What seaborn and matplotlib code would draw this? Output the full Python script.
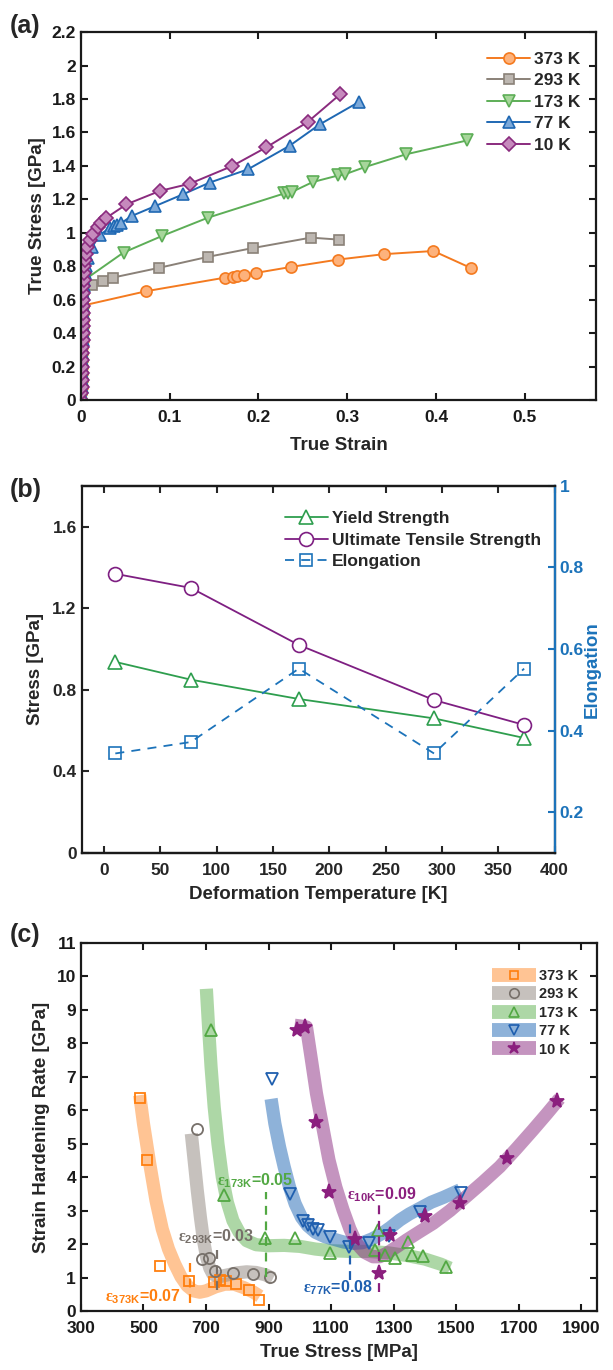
import numpy as np
import matplotlib
matplotlib.use('Agg')
import matplotlib.pyplot as plt
from matplotlib.lines import Line2D
from matplotlib.ticker import FuncFormatter
import seaborn as sns

# ---------------- data: (a) true stress-strain ----------------
temps_a = ['373 K', '293 K', '173 K', '77 K', '10 K']

strain_373 = [0, 0.0004, 0.0007, 0.0009, 0.0011, 0.0013, 0.0015, 0.0016, 0.0017, 0.0018, 0.0019, 0.002, 0.0021, 0.0022, 0.0024,
              0.0738, 0.1625, 0.171, 0.176, 0.184, 0.197, 0.237, 0.290, 0.341, 0.397, 0.439]
stress_373 = [0, 0.04, 0.08, 0.12, 0.16, 0.2, 0.24, 0.28, 0.32, 0.36, 0.4, 0.44, 0.48, 0.52, 0.565,
              0.651, 0.732, 0.736, 0.74, 0.746, 0.76, 0.796, 0.84, 0.872, 0.891, 0.79]

strain_293 = [0, 0.0004, 0.0007, 0.0009, 0.0011, 0.0013, 0.0015, 0.0016, 0.0017, 0.0018, 0.0019, 0.002, 0.0021, 0.0022, 0.0023,
              0.0025, 0.0028, 0.0035, 0.012, 0.025, 0.036, 0.0876, 0.143, 0.194, 0.259, 0.291]
stress_293 = [0, 0.04, 0.08, 0.12, 0.16, 0.2, 0.24, 0.28, 0.32, 0.36, 0.4, 0.44, 0.48, 0.52, 0.56,
              0.6, 0.64, 0.67, 0.69, 0.71, 0.732, 0.79, 0.856, 0.909, 0.971, 0.959]

strain_173 = [0, 0.0004, 0.0007, 0.0009, 0.0011, 0.0013, 0.0015, 0.0016, 0.0017, 0.0018, 0.0019, 0.002, 0.0021, 0.0022, 0.0023,
              0.0025, 0.0028, 0.0032, 0.0045, 0.048, 0.0914, 0.143, 0.229, 0.233, 0.238, 0.261, 0.290, 0.297, 0.320,
              0.366, 0.435]
stress_173 = [0, 0.04, 0.08, 0.12, 0.16, 0.2, 0.24, 0.28, 0.32, 0.36, 0.4, 0.44, 0.48, 0.52, 0.56,
              0.6, 0.64, 0.68, 0.72, 0.882, 0.981, 1.09, 1.235, 1.24, 1.245, 1.303, 1.343, 1.349, 1.393,
              1.469, 1.552]

strain_77 = [0, 0.0004, 0.0007, 0.0009, 0.0011, 0.0013, 0.0015, 0.0016, 0.0017, 0.0018, 0.0019, 0.002, 0.0021, 0.0022, 0.0023,
             0.0025, 0.0027, 0.003, 0.0035, 0.0042, 0.0055, 0.0075, 0.0124, 0.021, 0.0326, 0.037, 0.0408, 0.0457,
             0.057, 0.083, 0.115, 0.145, 0.188, 0.235, 0.269, 0.3128]
stress_77 = [0, 0.04, 0.08, 0.12, 0.16, 0.2, 0.24, 0.28, 0.32, 0.36, 0.4, 0.44, 0.48, 0.52, 0.56,
             0.6, 0.64, 0.68, 0.72, 0.76, 0.8, 0.85, 0.913, 0.985, 1.031, 1.039, 1.045, 1.059,
             1.10, 1.158, 1.23, 1.30, 1.379, 1.52, 1.648, 1.781]

strain_10 = [0, 0.0004, 0.0007, 0.0009, 0.0011, 0.0013, 0.0015, 0.0016, 0.0017, 0.0018, 0.0019, 0.002, 0.0021, 0.0022, 0.0023,
             0.0024, 0.0026, 0.0028, 0.0031, 0.0035, 0.004, 0.0045, 0.0055, 0.0071, 0.0101, 0.0139, 0.0187, 0.023, 0.0288,
             0.0513, 0.0888, 0.1225, 0.1704, 0.2086, 0.2554, 0.2918]
stress_10 = [0, 0.04, 0.08, 0.12, 0.16, 0.2, 0.24, 0.28, 0.32, 0.36, 0.4, 0.44, 0.48, 0.52, 0.56,
             0.6, 0.64, 0.68, 0.72, 0.76, 0.8, 0.84, 0.876, 0.915, 0.955, 0.995, 1.035, 1.059, 1.09,
             1.17, 1.25, 1.293, 1.399, 1.51, 1.662, 1.827]

xticks_a = [0, 0.1, 0.2, 0.3, 0.4, 0.5]
yticks_a = [0, 0.2, 0.4, 0.6, 0.8, 1.0, 1.2, 1.4, 1.6, 1.8, 2.0, 2.2]

# ---------------- data: (b) strength / elongation ----------------
temp_b = [10, 77, 173, 293, 373]
yield_b = [0.937, 0.85, 0.755, 0.66, 0.564]
uts_b = [1.369, 1.30, 1.02, 0.75, 0.628]
elong_b = [0.344, 0.372, 0.552, 0.344, 0.552]
xticks_b = [0, 50, 100, 150, 200, 250, 300, 350, 400]
yticks_b = [0, 0.4, 0.8, 1.2, 1.6]
yticks_b2 = [0.2, 0.4, 0.6, 0.8, 1.0]

# ---------------- data: (c) strain hardening ----------------
pts_373_x = [490, 510.6, 552, 645.7, 725.5, 743.6, 762.8, 794.7, 837, 869]
pts_373_y = [6.37, 4.50, 1.34, 0.90, 0.87, 0.92, 0.90, 0.82, 0.62, 0.32]
fit_373_x = [488, 500, 520, 540, 560, 580, 600, 620, 640, 660, 680, 700, 730, 760, 790, 820, 850, 872]
fit_373_y = [6.45, 5.6, 4.4, 3.3, 2.45, 1.85, 1.4, 1.02, 0.75, 0.6, 0.56, 0.6, 0.72, 0.8, 0.8, 0.7, 0.57, 0.44]

pts_293_x = [672, 687, 708.5, 727.7, 786, 850, 905]
pts_293_y = [5.44, 1.54, 1.58, 1.20, 1.12, 1.10, 1.02]
fit_293_x = [653, 662, 672, 682, 692, 702, 712, 722, 740, 770, 800, 830, 860, 890, 914]
fit_293_y = [5.3, 4.5, 3.6, 2.8, 2.1, 1.6, 1.28, 1.1, 1.02, 1.08, 1.14, 1.17, 1.15, 1.08, 0.97]

pts_173_x = [717, 756, 889, 983, 1095.5, 1239, 1250, 1271, 1303, 1346, 1359, 1394, 1468]
pts_173_y = [8.39, 3.46, 2.19, 2.19, 1.72, 1.82, 2.42, 1.67, 1.57, 2.07, 1.67, 1.64, 1.32]
fit_173_x = [701, 708, 716, 726, 738, 752, 768, 786, 806, 830, 860, 900, 950, 1000, 1050, 1100, 1160, 1220, 1280, 1340,
             1400, 1450, 1480]
fit_173_y = [9.63, 8.5, 7.3, 6.1, 5.0, 4.0, 3.25, 2.7, 2.35, 2.1, 1.98, 1.95, 1.96, 1.93, 1.85, 1.8, 1.78, 1.78, 1.74, 1.66,
             1.55, 1.4, 1.28]

pts_77_x = [910.6, 969, 1009.6, 1025.5, 1041, 1058, 1095.5, 1157, 1221, 1285, 1383, 1516]
pts_77_y = [6.92, 3.51, 2.68, 2.56, 2.46, 2.42, 2.22, 1.92, 2.02, 2.24, 2.97, 3.52]
fit_77_x = [908, 920, 935, 950, 967, 985, 1005, 1025, 1050, 1080, 1110, 1140, 1170, 1200, 1230, 1260, 1290, 1320, 1350,
            1380, 1420, 1460, 1512]
fit_77_y = [6.34, 5.6, 4.9, 4.3, 3.7, 3.2, 2.8, 2.55, 2.35, 2.22, 2.14, 2.06, 2.02, 2.04, 2.15, 2.3, 2.5, 2.72, 2.9,
            3.05, 3.25, 3.4, 3.62]

pts_10_x = [991.5, 1017, 1053, 1093, 1175.5, 1252, 1289.5, 1399, 1513, 1662, 1822]
pts_10_y = [8.41, 8.49, 5.64, 3.55, 2.15, 1.13, 2.27, 2.85, 3.24, 4.58, 6.27]
fit_10_x = [983, 1000, 1021, 1037, 1053, 1073, 1093, 1115, 1138, 1160, 1181, 1207, 1234, 1255, 1277, 1310, 1341, 1383,
            1426, 1480, 1532, 1585, 1639, 1692, 1745, 1790, 1830]
fit_10_y = [8.54, 8.52, 8.49, 7.5, 6.5, 5.5, 4.51, 3.7, 3.02, 2.45, 2.02, 1.75, 1.62, 1.62, 1.72, 1.92, 2.12, 2.37,
            2.62, 3.0, 3.42, 3.85, 4.31, 4.85, 5.41, 5.9, 6.35]

eps_labels = [r'$\mathrm{\varepsilon}_{\mathbf{373K}}$=0.07', r'$\mathrm{\varepsilon}_{\mathbf{293K}}$=0.03',
              r'$\mathrm{\varepsilon}_{\mathbf{173K}}$=0.05', r'$\mathrm{\varepsilon}_{\mathbf{77K}}$=0.08',
              r'$\mathrm{\varepsilon}_{\mathbf{10K}}$=0.09']
eps_x = [648, 735, 891, 1159, 1252]
eps_lo = [0.24, 0.63, 1.02, 0.93, 0.57]
eps_hi = [1.52, 1.91, 3.56, 2.72, 3.17]
eps_text_x = [377, 610, 734, 1009, 1150]
eps_text_y = [0.42, 2.21, 3.89, 0.69, 3.47]

xticks_c = [300, 500, 700, 900, 1100, 1300, 1500, 1700, 1900]
yticks_c = list(range(0, 12))

# ---------------- style ----------------
sns.set_theme(style='ticks')
plt.rcParams['font.family'] = ['Liberation Sans', 'DejaVu Sans']
plt.rcParams['font.weight'] = 'bold'
plt.rcParams['axes.labelweight'] = 'bold'
plt.rcParams['axes.linewidth'] = 1.6
plt.rcParams['mathtext.fontset'] = 'custom'
plt.rcParams['mathtext.rm'] = 'Liberation Serif'
plt.rcParams['mathtext.bf'] = 'Liberation Sans:bold'

TICK = 12.5
LAB = 13.5
fmt = FuncFormatter(lambda v, p: '%g' % v)

fig = plt.figure(figsize=(6.13, 13.7), dpi=100)
ax_a = fig.add_axes([0.132, 0.708, 0.840, 0.2686])
ax_b = fig.add_axes([0.133, 0.3774, 0.7716, 0.2679])
ax_c = fig.add_axes([0.132, 0.0431, 0.842, 0.2686])


def box_ticks(ax):
    ax.tick_params(direction='in', top=True, right=True, length=5, width=1.5,
                   labelsize=TICK, colors='k')
    ax.tick_params(axis='x', pad=7)
    for t in ax.get_xticklabels() + ax.get_yticklabels():
        t.set_fontweight('bold')
    for s in ax.spines.values():
        s.set_linewidth(1.6)
        s.set_color('k')


# ---------------- (a) ----------------
cols_a = ['#F47A1F', '#8A8178', '#5DAE57', '#1F68B3', '#8A2B7E']
face_a = ['#FDB27C', '#BDB7B1', '#A7D69B', '#7CA9D9', '#C68ABD']
mk_a = ['o', 's', 'v', '^', 'D']
ms_a = [8, 6.5, 8.5, 8.5, 7]
series_a = [(strain_373, stress_373), (strain_293, stress_293), (strain_173, stress_173),
            (strain_77, stress_77), (strain_10, stress_10)]
handles_a = []
for (xs, ys), c, f, m, s, lab in zip(series_a, cols_a, face_a, mk_a, ms_a, temps_a):
    sns.lineplot(x=xs, y=ys, ax=ax_a, estimator=None, sort=False, color=c, lw=1.4,
                 marker=m, ms=s, mfc=f, mec=c, mew=1.2)
    handles_a.append(Line2D([], [], color=c, lw=1.4, marker=m, ms=s, mfc=f, mec=c, mew=1.2))
ax_a.set_xlim(0, 0.58)
ax_a.set_ylim(0, 2.2)
ax_a.set_xticks(xticks_a)
ax_a.set_yticks(yticks_a)
ax_a.xaxis.set_major_formatter(fmt)
ax_a.yaxis.set_major_formatter(fmt)
box_ticks(ax_a)
ax_a.set_xlabel('True Strain', fontsize=LAB, labelpad=9)
ax_a.set_ylabel('True Stress [GPa]', fontsize=LAB, labelpad=4)
ax_a.legend(handles=handles_a, labels=temps_a, loc='upper left', bbox_to_anchor=(0.775, 0.965),
            frameon=False, fontsize=12.5, handlelength=2.5, handletextpad=0.2, labelspacing=0.36,
            borderaxespad=0)

# ---------------- (b) ----------------
c_ys, c_uts, c_el = '#2E9E4E', '#7E1F82', '#1C73BA'
sns.lineplot(x=temp_b, y=yield_b, ax=ax_b, estimator=None, color=c_ys, lw=1.3,
             marker='^', ms=10, mfc='white', mec=c_ys, mew=1.2)
sns.lineplot(x=temp_b, y=uts_b, ax=ax_b, estimator=None, color=c_uts, lw=1.3,
             marker='o', ms=10, mfc='white', mec=c_uts, mew=1.2)
ax_b2 = ax_b.twinx()
sns.lineplot(x=temp_b, y=elong_b, ax=ax_b2, estimator=None, color=c_el, lw=1.3, ls=(0, (5, 4)),
             marker='s', ms=8, mfc='none', mec=c_el, mew=1.2)
ax_b.set_xlim(-20, 400)
ax_b.set_ylim(0, 1.8)
ax_b2.set_ylim(0.1, 1.0)
ax_b.set_xticks(xticks_b)
ax_b.set_yticks(yticks_b)
ax_b2.set_yticks(yticks_b2)
ax_b.yaxis.set_major_formatter(fmt)
ax_b2.yaxis.set_major_formatter(fmt)
ax_b.tick_params(direction='in', top=True, right=False, length=5, width=1.5, labelsize=TICK)
ax_b.tick_params(axis='x', pad=7)
ax_b2.tick_params(direction='in', length=5, width=1.5, labelsize=TICK, colors=c_el)
for t in ax_b.get_xticklabels() + ax_b.get_yticklabels() + ax_b2.get_yticklabels():
    t.set_fontweight('bold')
for s in ax_b.spines.values():
    s.set_linewidth(1.6)
    s.set_color('k')
for k, s in ax_b2.spines.items():
    s.set_linewidth(1.6)
    s.set_color(c_el if k == 'right' else 'k')
ax_b2.spines['left'].set_visible(False)
ax_b.set_xlabel('Deformation Temperature [K]', fontsize=LAB, labelpad=6)
ax_b.set_ylabel('Stress [GPa]', fontsize=LAB, labelpad=6)
ax_b2.set_ylabel('Elongation', fontsize=LAB, color=c_el, labelpad=0)
h_b = [Line2D([], [], color=c_ys, lw=1.3, marker='^', ms=10, mfc='white', mec=c_ys, mew=1.2),
       Line2D([], [], color=c_uts, lw=1.3, marker='o', ms=10, mfc='white', mec=c_uts, mew=1.2),
       Line2D([], [], color=c_el, lw=1.3, ls=(0, (5, 4)), marker='s', ms=8, mfc='none', mec=c_el, mew=1.2)]
ax_b.legend(handles=h_b, labels=['Yield Strength', 'Ultimate Tensile Strength', 'Elongation'],
            loc='upper left', bbox_to_anchor=(0.415, 0.95), frameon=False, fontsize=12.5,
            handlelength=2.5, handletextpad=0.2, labelspacing=0.36, borderaxespad=0)

# ---------------- (c) ----------------
band_c = ['#FF8A2A', '#8E857D', '#5DB14E', '#1F66B5', '#8B2A80']
mark_c = ['#FF7F0E', '#77706A', '#52A843', '#1F5FAF', '#8B1F7E']
mk_c = ['s', 'o', '^', 'v', '*']
ms_c = [6.5, 8, 8.5, 8.5, 11]
fits = [(fit_373_x, fit_373_y), (fit_293_x, fit_293_y), (fit_173_x, fit_173_y),
        (fit_77_x, fit_77_y), (fit_10_x, fit_10_y)]
pts = [(pts_373_x, pts_373_y), (pts_293_x, pts_293_y), (pts_173_x, pts_173_y),
       (pts_77_x, pts_77_y), (pts_10_x, pts_10_y)]
for (fx, fy), bc in zip(fits, band_c):
    sns.lineplot(x=fx, y=fy, ax=ax_c, estimator=None, sort=False, color=bc, lw=9.5,
                 alpha=0.5, solid_capstyle='butt')
for (px, py), mc, m, s in zip(pts, mark_c, mk_c, ms_c):
    face = mc if m == '*' else 'none'
    sns.lineplot(x=px, y=py, ax=ax_c, estimator=None, sort=False, ls='', marker=m, ms=s,
                 mfc=face, mec=mc, mew=1.3)
for lab, x, lo, hi, tx, ty, mc in zip(eps_labels, eps_x, eps_lo, eps_hi, eps_text_x, eps_text_y, mark_c):
    ax_c.plot([x, x], [lo, hi], color=mc, lw=1.6, ls=(0, (4, 3)))
    ax_c.text(tx, ty, lab, color=mc, fontsize=11.5, fontweight='bold', ha='left', va='center')

ax_c.set_xlim(300, 1950)
ax_c.set_ylim(0, 11)
ax_c.set_xticks(xticks_c)
ax_c.set_yticks(yticks_c)
box_ticks(ax_c)
ax_c.set_xlabel('True Stress [MPa]', fontsize=LAB, labelpad=6)
ax_c.set_ylabel('Strain Hardening Rate [GPa]', fontsize=LAB, labelpad=5)
h_c = [(Line2D([], [], color=bc, lw=10, alpha=0.5, solid_capstyle='butt'),
        Line2D([], [], ls='', marker=m, ms=s * 0.85, mfc=(mc if m == '*' else 'none'), mec=mc, mew=1.2))
       for bc, mc, m, s in zip(band_c, mark_c, mk_c, ms_c)]
ax_c.legend(handles=h_c, labels=temps_a, loc='upper left', bbox_to_anchor=(0.785, 0.945),
            frameon=False, fontsize=10.5, handlelength=3.0, handletextpad=0.25, labelspacing=0.3,
            borderaxespad=0)

fig.text(0.016, 0.99, '(a)', fontsize=18, fontweight='bold', va='top')
fig.text(0.016, 0.651, '(b)', fontsize=18, fontweight='bold', va='top')
fig.text(0.016, 0.326, '(c)', fontsize=18, fontweight='bold', va='top')

fig.savefig('out.png', dpi=100)
